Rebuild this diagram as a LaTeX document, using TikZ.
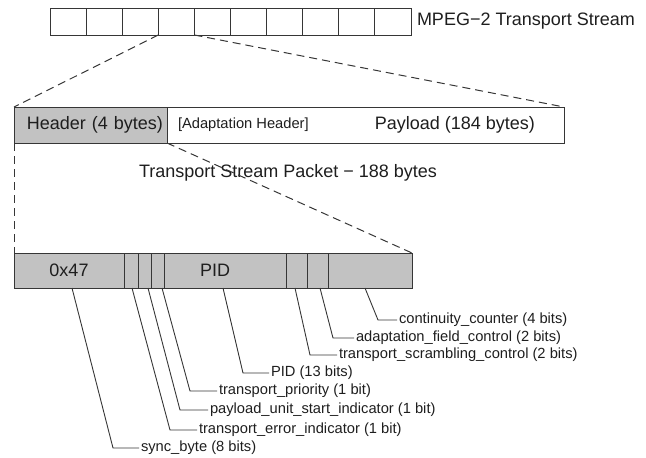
\documentclass[tikz,border=0pt]{standalone}
\usepackage{fontspec}
\setmainfont{Liberation Sans}
\usepackage{tikz}
\usetikzlibrary{positioning}

\definecolor{linegray}{HTML}{363636}
\definecolor{boxgray}{HTML}{C2C2C2}
\definecolor{textgray}{HTML}{1E1E1E}

\tikzset{
  bigtext/.style={font=\fontsize{18pt}{21pt}\selectfont, text=textgray, inner sep=2pt},
  smalltext/.style={font=\fontsize{14.7pt}{17pt}\selectfont, text=textgray, inner sep=2pt},
  streambox/.style={draw=linegray, fill=white, minimum width=36.1pt, minimum height=27pt, inner sep=0pt},
  fieldbox/.style={draw=linegray, fill=boxgray, minimum height=35pt, inner sep=0pt, bigtext},
  zoomline/.style={draw=linegray, dash pattern=on 8pt off 5pt},
  leader/.style={draw=linegray, line width=0.9pt}
}

\begin{document}
\begin{tikzpicture}[x=1pt,y=-1pt,node distance=0pt,outer sep=0pt,line width=1pt]

\useasboundingbox (0,0) rectangle (646,458);

% Stream
\node [streambox, anchor=north west] (ts1) at (50,8) {};
\node [streambox, right=of ts1] (ts2) {};
\node [streambox, right=of ts2] (ts3) {};
\node [streambox, right=of ts3] (ts4) {};
\node [streambox, right=of ts4] (ts5) {};
\node [streambox, right=of ts5] (ts6) {};
\node [streambox, right=of ts6] (ts7) {};
\node [streambox, right=of ts7] (ts8) {};
\node [streambox, right=of ts8] (ts9) {};
\node [streambox, right=of ts9] (ts10) {};
\node [bigtext, right=4pt of ts10] (tslabel) {MPEG−2 Transport Stream};

% Packet
\node [fieldbox, minimum width=153pt, minimum height=36pt, text width=145pt, align=right, anchor=north west] (header) at (14,107) {Header (4 bytes)};
\node [draw=linegray, fill=white, minimum width=397pt, minimum height=36pt, inner sep=0pt, right=of header] (payload) {};
\node [smalltext, anchor=west] (adapt) at ([xshift=9pt]payload.west) {[Adaptation Header]};
\node [bigtext, anchor=east] (payloadtxt) at ([xshift=-27pt]payload.east) {Payload (184 bytes)};
\node [bigtext] (pktlabel) at (288,173) {Transport Stream Packet − 188 bytes};

% Header fields
\node [fieldbox, minimum width=110pt, anchor=north west] (sync) at (14,253) {0x47};
\node [fieldbox, minimum width=14pt, right=of sync] (tei) {};
\node [fieldbox, minimum width=13pt, right=of tei] (pusi) {};
\node [fieldbox, minimum width=13pt, right=of pusi] (prio) {};
\node [fieldbox, minimum width=122pt, text width=50pt, align=left, right=of prio] (pid) {PID};
\node [fieldbox, minimum width=21pt, right=of pid] (tsc) {};
\node [fieldbox, minimum width=21pt, right=of tsc] (afc) {};
\node [fieldbox, minimum width=84pt, right=of afc] (cc) {};

% Zoom lines
\draw [zoomline] (ts4.south west) -- (header.north west);
\draw [zoomline] (ts4.south east) -- (payload.north east);
\draw [zoomline] (header.south west) -- (sync.north west);
\draw [zoomline] (header.south east) -- (cc.north east);

% Field labels
\node [smalltext, anchor=west] (l-cc) at (397,320) {continuity\_counter (4 bits)};
\node [smalltext, anchor=west] (l-afc) at (354,338) {adaptation\_field\_control (2 bits)};
\node [smalltext, anchor=west] (l-tsc) at (337,355) {transport\_scrambling\_control (2 bits)};
\node [smalltext, anchor=west] (l-pid) at (269,373) {PID (13 bits)};
\node [smalltext, anchor=west] (l-prio) at (217,391) {transport\_priority (1 bit)};
\node [smalltext, anchor=west] (l-pusi) at (208,410) {payload\_unit\_start\_indicator (1 bit)};
\node [smalltext, anchor=west] (l-tei) at (197,430) {transport\_error\_indicator (1 bit)};
\node [smalltext, anchor=west] (l-sync) at (139,448) {sync\_byte (8 bits)};

% Leaders
\draw [leader] ([xshift=-5pt]cc.south) -- ([xshift=-19pt]l-cc.west) -- (l-cc.west);
\draw [leader] ([xshift=2.5pt]afc.south) -- ([xshift=-21pt]l-afc.west) -- (l-afc.west);
\draw [leader] ([xshift=-1.5pt]tsc.south) -- ([xshift=-27pt]l-tsc.west) -- (l-tsc.west);
\draw [leader] ([xshift=-2pt]pid.south) -- ([xshift=-26pt]l-pid.west) -- (l-pid.west);
\draw [leader] ([xshift=4.5pt]prio.south) -- ([xshift=-27pt]l-prio.west) -- (l-prio.west);
\draw [leader] ([xshift=3.5pt]pusi.south) -- ([xshift=-28pt]l-pusi.west) -- (l-pusi.west);
\draw [leader] ([xshift=1pt]tei.south) -- ([xshift=-27pt]l-tei.west) -- (l-tei.west);
\draw [leader] ([xshift=3pt]sync.south) -- ([xshift=-26pt]l-sync.west) -- (l-sync.west);

\end{tikzpicture}
\end{document}
